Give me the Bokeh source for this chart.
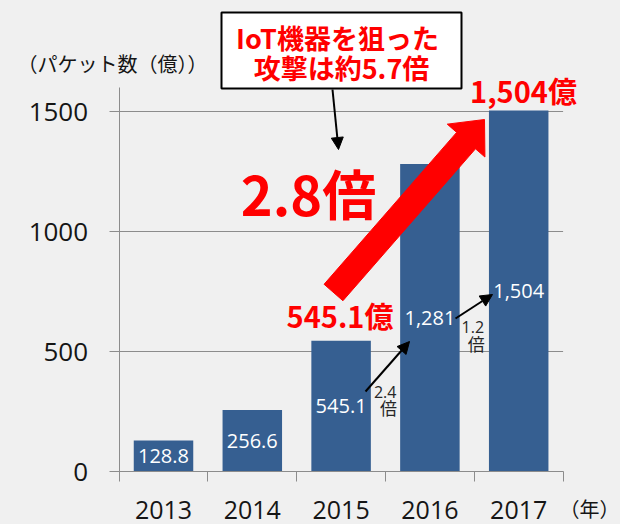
import math
from bokeh.plotting import figure
from bokeh.models import (Range1d, FixedTicker, Label, BoxAnnotation, Arrow,
                          NormalHead, ColumnDataSource)
from bokeh.core.properties import value
from bokeh.embed import file_html
from bokeh.resources import INLINE

# ---------------- data ----------------
years = ["2013", "2014", "2015", "2016", "2017"]
packets = [128.8, 256.6, 545.1, 1281, 1504]          # 億パケット
y_ticks = [0, 500, 1000, 1500]
y_title = "（パケット数（億））"
x_unit = "（年）"
box_lines = ["IoT機器を狙った", "攻撃は約5.7倍"]
growth_labels = [("2.4", "倍"), ("1.2", "倍")]
big_ratio = "2.8倍"
start_label = "545.1億"
end_label = "1,504億"

# ---------------- styling / geometry ----------------
BG = "#f0f0f0"
BAR = "#365f91"
GRID = "#8c8c8c"
RED = "#ff0000"
TXT = "#151515"
W, H = 620, 524
YMAX = 1600
N = len(years)

# pixel placement of the chart area inside the canvas (for annotations)
AX_LEFT, AX_RIGHT, AX_BOTTOM, AX_TOP = 118.6, 562.6, 471.0, 87.0
PX_X = (AX_RIGHT - AX_LEFT) / N
PX_Y = (AX_BOTTOM - AX_TOP) / YMAX
def dx(px):
    return (px - AX_LEFT) / PX_X - 0.5
def dy(py):
    return (AX_BOTTOM - py) / PX_Y

p = figure(width=W, height=H, x_range=Range1d(dx(0), dx(W)),
           y_range=Range1d(dy(H), dy(0)), output_backend="svg",
           toolbar_location=None, min_border=0, min_border_left=0,
           min_border_right=0, min_border_top=0, min_border_bottom=0,
           background_fill_color=BG, border_fill_color=BG,
           outline_line_color=None)

# grid lines only across the category span
p.xgrid.visible = False
p.ygrid.visible = False
p.segment(x0=[-0.5] * len(y_ticks), x1=[N - 0.5] * len(y_ticks),
          y0=y_ticks, y1=y_ticks, line_color=GRID, line_width=1)

# y axis, pinned at the left category boundary
yax = p.yaxis[0]
yax.fixed_location = -0.5
yax.bounds = (0, YMAX)
yax.ticker = FixedTicker(ticks=y_ticks)
yax.axis_line_color = GRID
yax.major_tick_line_color = GRID
yax.major_tick_out = 10
yax.major_tick_in = 0
yax.minor_tick_out = 0
yax.minor_tick_in = 0
yax.major_label_text_font = "Open Sans"
yax.major_label_text_font_size = "26px"
yax.major_label_text_color = TXT
yax.major_label_standoff = 21

# x axis: Excel style ticks at category boundaries, labels at centres
idx = list(range(N))
xax = p.xaxis[0]
xax.fixed_location = 0
xax.bounds = (-0.5, N - 0.5)
xax.ticker = FixedTicker(ticks=idx, minor_ticks=[i - 0.5 for i in range(N + 1)])
xax.major_label_overrides = {i: y for i, y in enumerate(years)}
xax.axis_line_color = GRID
xax.minor_tick_line_color = GRID
xax.major_tick_line_color = None
xax.minor_tick_out = 10
xax.minor_tick_in = 0
xax.major_tick_out = 0
xax.major_tick_in = 0
xax.major_label_text_font = "Open Sans"
xax.major_label_text_font_size = "25px"
xax.major_label_text_color = TXT
xax.major_label_standoff = 19

# bars and value labels
src = ColumnDataSource(dict(
    x=idx, top=packets, mid=[v / 2 for v in packets],
    lab=[(f"{v:,.1f}" if v < 1000 else f"{v:,.0f}") for v in packets]))
p.vbar(x="x", top="top", width=0.67, source=src, fill_color=BAR, line_color=None)
p.text(x="x", y="mid", text="lab", source=src, text_color="white",
       text_font=value("Open Sans"), text_font_size=value("20px"),
       text_align="center", text_baseline="middle")

# unit texts
p.add_layout(Label(x=dx(589), y=dy(508), text=x_unit, text_font="Noto Sans CJK JP",
                   text_font_size="20px", text_color=TXT,
                   text_align="center", text_baseline="middle"))
p.add_layout(Label(x=dx(112), y=dy(63), text=y_title, text_font="Noto Sans CJK JP",
                   text_font_size="20px", text_color=TXT,
                   text_align="center", text_baseline="middle"))

# big red block arrow
def block_arrow(sx, sy, tx, ty, shaft_w, head_w, head_l):
    ux, uy = tx - sx, ty - sy
    n = math.hypot(ux, uy)
    ux, uy = ux / n, uy / n
    nx, ny = -uy, ux
    bx, by = tx - head_l * ux, ty - head_l * uy
    pts = [(sx + nx * shaft_w / 2, sy + ny * shaft_w / 2),
           (bx + nx * shaft_w / 2, by + ny * shaft_w / 2),
           (bx + nx * head_w / 2, by + ny * head_w / 2),
           (tx, ty),
           (bx - nx * head_w / 2, by - ny * head_w / 2),
           (bx - nx * shaft_w / 2, by - ny * shaft_w / 2),
           (sx - nx * shaft_w / 2, sy - ny * shaft_w / 2)]
    return [dx(a) for a, _ in pts], [dy(b) for _, b in pts]

ax_, ay_ = block_arrow(333, 292, 484, 119, 25, 50, 28)
p.patch(ax_, ay_, fill_color=RED, line_color=RED, line_width=1)

# callout box
p.add_layout(BoxAnnotation(left=dx(221), right=dx(461), top=dy(12), bottom=dy(88),
                           fill_color="white", fill_alpha=1.0,
                           line_color="black", line_width=2, line_alpha=1.0))
p.add_layout(Label(x=dx(337), y=dy(37), text=box_lines[0], text_font="Noto Sans CJK JP",
                   text_font_style="bold", text_font_size="27px", text_color=RED,
                   text_align="center", text_baseline="middle"))
p.add_layout(Label(x=dx(341), y=dy(67), text=box_lines[1], text_font="Noto Sans CJK JP",
                   text_font_style="bold", text_font_size="27px", text_color=RED,
                   text_align="center", text_baseline="middle"))

# black arrows
def black_arrow(x0, y0, x1, y1):
    p.add_layout(Arrow(x_start=dx(x0), y_start=dy(y0), x_end=dx(x1), y_end=dy(y1),
                       line_color="black", line_width=2,
                       end=NormalHead(size=12, fill_color="black", line_color="black")))
black_arrow(332, 89, 338, 149)
black_arrow(365, 391, 409, 341)
black_arrow(455, 318, 492, 294)

# growth labels
for (num, bai), (cx, cy, bx_, by_) in zip(growth_labels,
                                          [(384.7, 391, 388, 406.5),
                                           (472.3, 326, 475.8, 342.5)]):
    p.add_layout(Label(x=dx(cx), y=dy(cy), text=num, text_font="Open Sans",
                       text_font_size="16px", text_color="#262626",
                       text_align="center", text_baseline="middle"))
    p.add_layout(Label(x=dx(bx_), y=dy(by_), text=bai, text_font="Noto Sans CJK JP",
                       text_font_size="17px", text_color="#262626",
                       text_align="center", text_baseline="middle"))

# red headline texts
p.add_layout(Label(x=dx(308), y=dy(192), text=big_ratio, text_font="Noto Sans CJK JP",
                   text_font_style="bold", text_font_size="54px", text_color=RED,
                   text_align="center", text_baseline="middle"))
p.add_layout(Label(x=dx(339.5), y=dy(314), text=start_label, text_font="Noto Sans CJK JP",
                   text_font_style="bold", text_font_size="29px", text_color=RED,
                   text_align="center", text_baseline="middle"))
p.add_layout(Label(x=dx(523), y=dy(89), text=end_label, text_font="Noto Sans CJK JP",
                   text_font_style="bold", text_font_size="29px", text_color=RED,
                   text_align="center", text_baseline="middle"))

html = file_html(p, INLINE, title="IoT attack packets")
html = html.replace("</head>", "<style>html,body{background:%s;}</style></head>" % BG, 1)
open("out.html", "w").write(html)
